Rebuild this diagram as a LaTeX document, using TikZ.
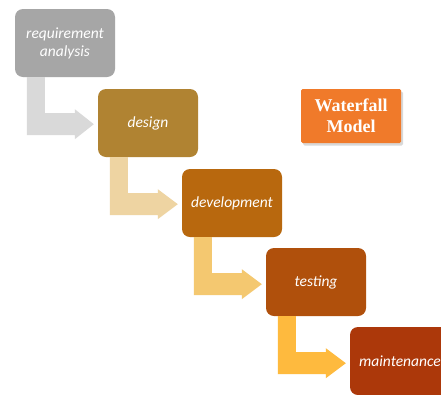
\documentclass[tikz,border=0pt]{standalone}
\usepackage{fontspec}
\setmainfont{Carlito}
\newfontfamily\serifbold{Liberation Serif Bold}
\usetikzlibrary{calc,shadows}
\definecolor{cReq}{RGB}{166,166,166}
\definecolor{cDes}{RGB}{176,131,50}
\definecolor{cDev}{RGB}{184,104,14}
\definecolor{cTes}{RGB}{176,80,12}
\definecolor{cMai}{RGB}{172,56,10}
\definecolor{aOne}{RGB}{217,217,217}
\definecolor{aTwo}{RGB}{238,212,162}
\definecolor{aThr}{RGB}{244,200,112}
\definecolor{aFou}{RGB}{254,186,62}
\definecolor{cWat}{RGB}{240,122,42}
\tikzset{
  phase/.style={rounded corners=8pt, minimum width=100pt, minimum height=68pt, inner sep=0pt,
    text=white, font=\fontsize{15.5}{18}\selectfont\itshape, align=center},
  titlebox/.style={fill=cWat, minimum width=100pt, minimum height=54pt, inner sep=0pt,
    rounded corners=1.5pt, text=white, font=\serifbold\fontsize{18}{21}\selectfont, align=center,
    drop shadow={shadow xshift=2pt, shadow yshift=-2.5pt, opacity=0.3}}
}
\newcommand{\bentarrow}[3]{% from node #1 to node #2, colour #3
  \fill[#3]
    ($(#1.south west)+(12,0)$) --
    ($(#1.south west)+(30,0)$) --
    ($(#1.south west)+(30,36)$) --
    ($(#1.south west)+(60,36)$) --
    ($(#1.south west)+(60,32)$) --
    ($(#2.west |- #1.south)+(-4,47)$) --
    ($(#1.south west)+(60,62)$) --
    ($(#1.south west)+(60,58)$) --
    ($(#1.south west)+(12,58)$) -- cycle;
}
\begin{document}
\begin{tikzpicture}[x=1pt,y=-1pt]
\useasboundingbox (0,0) rectangle (441,394);
\clip (0,0) rectangle (441,394);
\fill[white] (0,0) rectangle (441,394);
\node[phase, fill=cReq] (req) at (65,43) {requirement\\analysis};
\node[phase, fill=cDes] (des) at (148,123) {design};
\node[phase, fill=cDev] (dev) at (232,203) {development};
\node[phase, fill=cTes] (tes) at (316,282) {testing};
\node[phase, fill=cMai] (mai) at (400,361) {maintenance};
\node[titlebox] (wat) at (351,116) {Waterfall\\Model};
\bentarrow{req}{des}{aOne}
\bentarrow{des}{dev}{aTwo}
\bentarrow{dev}{tes}{aThr}
\bentarrow{tes}{mai}{aFou}
\end{tikzpicture}
\end{document}
